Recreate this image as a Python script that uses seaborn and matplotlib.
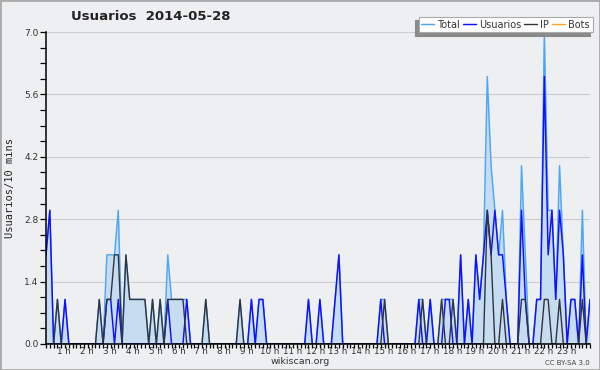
import numpy as np
import matplotlib
matplotlib.use("Agg")
import matplotlib.pyplot as plt
import seaborn as sns
from matplotlib.patches import Rectangle

# one value every 10 minutes, 00:00 -> 23:50
total = [2, 3, 0, 1, 0, 1, 0, 0, 0, 0, 0, 0,
         0, 0, 1, 0, 2, 2, 2, 3, 0, 2, 1, 1,
         1, 1, 1, 0, 1, 0, 1, 0, 2, 1, 1, 1,
         1, 1, 0, 0, 0, 0, 1, 0, 0, 0, 0, 0,
         0, 0, 0, 1, 0, 0, 1, 0, 1, 1, 0, 0,
         0, 0, 0, 0, 0, 0, 0, 0, 0, 1, 0, 0,
         1, 0, 0, 0, 1, 2, 0, 0, 0, 0, 0, 0,
         0, 0, 0, 0, 1, 1, 0, 0, 0, 0, 0, 0,
         0, 0, 1, 1, 0, 1, 0, 0, 1, 1, 1, 1,
         0, 2, 0, 1, 0, 2, 1, 2, 6, 4, 3, 2,
         3, 1, 0, 0, 0, 4, 2, 0, 0, 1, 1, 7,
         3, 3, 1, 4, 2, 0, 1, 1, 0, 3, 0, 1]

usuarios = [2, 3, 0, 0, 0, 1, 0, 0, 0, 0, 0, 0,
            0, 0, 0, 0, 1, 1, 0, 1, 0, 0, 0, 0,
            0, 0, 0, 0, 0, 0, 0, 0, 1, 0, 0, 0,
            0, 1, 0, 0, 0, 0, 0, 0, 0, 0, 0, 0,
            0, 0, 0, 0, 0, 0, 1, 0, 1, 1, 0, 0,
            0, 0, 0, 0, 0, 0, 0, 0, 0, 1, 0, 0,
            1, 0, 0, 0, 1, 2, 0, 0, 0, 0, 0, 0,
            0, 0, 0, 0, 1, 0, 0, 0, 0, 0, 0, 0,
            0, 0, 1, 0, 0, 1, 0, 0, 0, 1, 1, 0,
            0, 2, 0, 1, 0, 2, 1, 2, 3, 2, 3, 2,
            2, 1, 0, 0, 0, 3, 1, 0, 0, 1, 1, 6,
            2, 3, 1, 3, 2, 0, 1, 1, 0, 2, 0, 1]

ip = [0, 0, 0, 1, 0, 0, 0, 0, 0, 0, 0, 0,
      0, 0, 1, 0, 1, 1, 2, 2, 0, 2, 1, 1,
      1, 1, 1, 0, 1, 0, 1, 0, 1, 1, 1, 1,
      1, 0, 0, 0, 0, 0, 1, 0, 0, 0, 0, 0,
      0, 0, 0, 1, 0, 0, 0, 0, 0, 0, 0, 0,
      0, 0, 0, 0, 0, 0, 0, 0, 0, 0, 0, 0,
      0, 0, 0, 0, 0, 0, 0, 0, 0, 0, 0, 0,
      0, 0, 0, 0, 0, 1, 0, 0, 0, 0, 0, 0,
      0, 0, 0, 1, 0, 0, 0, 0, 1, 0, 0, 1,
      0, 0, 0, 0, 0, 0, 0, 0, 3, 2, 0, 0,
      1, 0, 0, 0, 0, 1, 1, 0, 0, 0, 0, 1,
      1, 0, 0, 1, 0, 0, 0, 0, 0, 1, 0, 0]

bots = [0, 0, 0, 0, 0, 0, 0, 0, 0, 0, 0, 0,
        0, 0, 0, 0, 0, 0, 0, 0, 0, 0, 0, 0,
        0, 0, 0, 0, 0, 0, 0, 0, 0, 0, 0, 0,
        0, 0, 0, 0, 0, 0, 0, 0, 0, 0, 0, 0,
        0, 0, 0, 0, 0, 0, 0, 0, 0, 0, 0, 0,
        0, 0, 0, 0, 0, 0, 0, 0, 0, 0, 0, 0,
        0, 0, 0, 0, 0, 0, 0, 0, 0, 0, 0, 0,
        0, 0, 0, 0, 0, 0, 0, 0, 0, 0, 0, 0,
        0, 0, 0, 0, 0, 0, 0, 0, 0, 0, 0, 0,
        0, 0, 0, 0, 0, 0, 0, 0, 0, 0, 0, 0,
        0, 0, 0, 0, 0, 0, 0, 0, 0, 0, 0, 0,
        0, 0, 0, 0, 0, 0, 0, 0, 0, 0, 0, 0]

hours = list(range(1, 24))
hour_labels = [f"{h} h" for h in hours]
y_ticks = [0.0, 1.4, 2.8, 4.2, 5.6, 7.0]

slots = np.arange(len(total))
bg = "#eeeff1"

sns.set_style("white")
plt.rcParams["font.family"] = ["DejaVu Sans"]

fig = plt.figure(figsize=(6, 3.7), dpi=100, facecolor=bg)
ax = fig.add_axes([0.0767, 0.0703, 0.9066, 0.8432], facecolor=bg)

ax.fill_between(slots, total, color="#c6dcf0", lw=0, zorder=1)
sns.lineplot(x=slots, y=total, color="#4ea6f7", lw=1.05, label="Total", ax=ax, zorder=2)
sns.lineplot(x=slots, y=usuarios, color="#1010ff", lw=1.05, label="Usuarios", ax=ax, zorder=3)
sns.lineplot(x=slots, y=ip, color="#30343c", lw=1.0, label="IP", ax=ax, zorder=4)
sns.lineplot(x=slots, y=bots, color="#ffa31a", lw=1.0, label="Bots", ax=ax, zorder=1.5)

ax.set_xlim(0, len(total) - 1)
ax.set_ylim(0, 7)

ax.set_yticks(y_ticks)
ax.set_yticklabels([f"{v:.1f}" for v in y_ticks])
ax.set_yticks(np.arange(0, 7.01, 0.35), minor=True)
ax.tick_params(axis="y", which="both", direction="out", length=4, width=0.9,
               color="black", labelsize=6.5, labelcolor="#333333", pad=1.5, left=True)

ax.set_xticks([6 * h - 1.2 for h in hours])
ax.set_xticklabels(hour_labels)
ax.set_xticks(slots, minor=True)
ax.tick_params(axis="x", which="major", length=0, labelsize=6.3, labelcolor="#333333", pad=2.5)
ax.tick_params(axis="x", which="minor", direction="out", length=3, width=0.9,
               color="black", bottom=True)

ax.yaxis.grid(True, color="#cdcdcd", lw=0.8)
ax.set_axisbelow(True)
for side in ["top", "right"]:
    ax.spines[side].set_visible(False)
for side in ["left", "bottom"]:
    ax.spines[side].set_color("black")
    ax.spines[side].set_linewidth(1.1)
    ax.spines[side].set_zorder(6)
ax.set_xlabel("")
ax.set_ylabel("")

leg = ax.legend(loc="upper right", bbox_to_anchor=(0.988, 0.955),
                bbox_transform=fig.transFigure, ncol=4, fontsize=7,
                frameon=True, fancybox=False, handlelength=1.3, handletextpad=0.35,
                columnspacing=0.3, borderpad=0.3, borderaxespad=0,
                shadow={"ox": -2.2, "oy": -2.2, "facecolor": "#8a8a8a",
                        "edgecolor": "#8a8a8a", "alpha": 1})
leg.get_frame().set_edgecolor("#aaaaaa")
leg.get_frame().set_linewidth(0.8)
leg.get_frame().set_facecolor("white")
for t in leg.get_texts():
    t.set_color("#333333")

fig.text(0.252, 0.955, "Usuarios  2014-05-28", fontsize=9.5, fontweight="bold",
         ha="center", va="center", color="#222222")
fig.text(0.017, 0.492, "Usuarios/10 mins", rotation=90, ha="center", va="center",
         fontsize=7.5, family="DejaVu Sans Mono", color="#222222")
fig.text(0.5, 0.023, "wikiscan.org", fontsize=6.8, ha="center", va="center", color="#333333")
fig.text(0.983, 0.02, "CC BY-SA 3.0", fontsize=5, ha="right", va="center", color="#444444")

fig.patches.append(Rectangle((0, 0), 1, 1, transform=fig.transFigure, fill=False,
                             edgecolor="#aaaaaa", lw=2, zorder=10))

fig.savefig("out.png", dpi=100, facecolor=bg)
